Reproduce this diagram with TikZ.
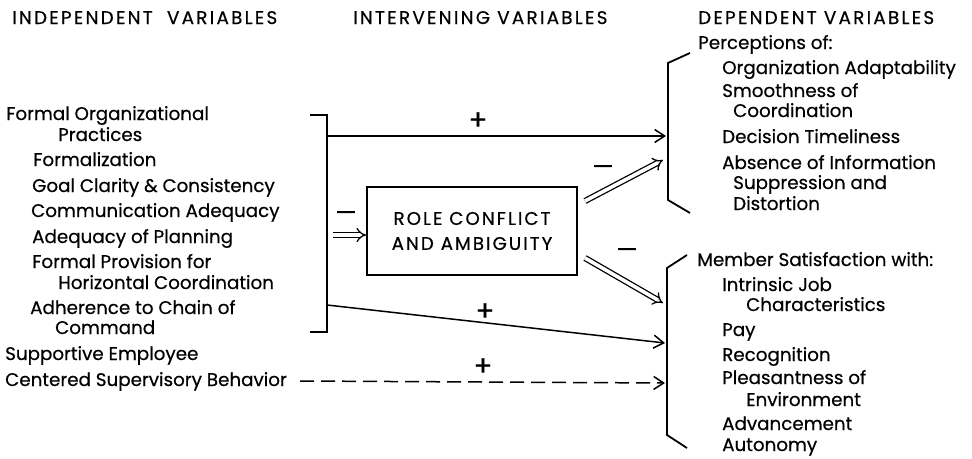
\documentclass[tikz,border=0pt]{standalone}
\usepackage{fontspec}
\setmainfont{Poppins}[FakeBold=0.5]
\usetikzlibrary{arrows.meta}
\tikzset{
  txt/.style={anchor=west, inner sep=0pt, text height=12pt, text depth=0pt, font=\fontsize{18.3}{20}\selectfont},
  hdr/.style={anchor=west, inner sep=0pt, text height=12pt, text depth=0pt, font=\fontsize{18.3}{20}\selectfont\addfontfeature{LetterSpace=12.5}},
  sign/.style={inner sep=0pt, font=\fontsize{28}{28}\selectfont},
  msign/.style={inner sep=0pt, font=\fontsize{24}{24}\selectfont},
  ln/.style={line width=1.8pt},
  arr/.style={line width=1.5pt, -{Straight Barb[length=10pt,width=13pt,line width=1.5pt]}},
  dbl/.style={line width=1.3pt, double, double distance=3.6pt, -{Implies[length=11pt]}},
  dsh/.style={arr, dash pattern=on 14pt off 7pt},
  boxn/.style={draw, line width=1.8pt, minimum width=210pt, minimum height=88pt, inner sep=0pt, align=center, font=\fontsize{18.3}{25}\selectfont\addfontfeature{LetterSpace=11}}
}
\begin{document}
\begin{tikzpicture}[x=1pt,y=-1pt]
\useasboundingbox (0,0) rectangle (972,458);
% headers
\node[hdr] (h1) at (12,18) {INDEPENDENT \ VARIABLES};
\node[hdr] (h2) at (353,18) {INTERVENING VARIABLES};
\node[hdr] (h3) at (698,18) {DEPENDENT VARIABLES};
% independent variables
\node[txt] (i1) at (6,114) {Formal Organizational};
\node[txt] (i1b) at (58,135) {Practices};
\node[txt] (i2) at (33,160) {Formalization};
\node[txt] (i3) at (32,186) {Goal Clarity \& Consistency};
\node[txt] (i4) at (31,211) {Communication Adequacy};
\node[txt] (i5) at (32,237) {Adequacy of Planning};
\node[txt] (i6) at (32,262) {Formal Provision for};
\node[txt] (i6b) at (58,283) {Horizontal Coordination};
\node[txt] (i7) at (30,308) {Adherence to Chain of};
\node[txt] (i7b) at (55,328) {Command};
\node[txt] (i8) at (5,354) {Supportive Employee};
\node[txt] (i8b) at (5,380) {Centered Supervisory Behavior};
% dependent: perceptions
\node[txt] (p0) at (698,43) {Perceptions of:};
\node[txt] (p1) at (722,68) {Organization Adaptability};
\node[txt] (p2) at (722,91) {Smoothness of};
\node[txt] (p2b) at (733,111) {Coordination};
\node[txt] (p3) at (722,137) {Decision Timeliness};
\node[txt] (p4) at (722,163) {Absence of Information};
\node[txt] (p4b) at (733,183) {Suppression and};
\node[txt] (p4c) at (733,204) {Distortion};
% dependent: satisfaction
\node[txt] (m0) at (697,260) {Member Satisfaction with:};
\node[txt] (m1) at (722,285) {Intrinsic Job};
\node[txt] (m1b) at (746,305) {Characteristics};
\node[txt] (m2) at (722,330) {Pay};
\node[txt] (m3) at (722,355) {Recognition};
\node[txt] (m4) at (722,378) {Pleasantness of};
\node[txt] (m4b) at (746,400) {Environment};
\node[txt] (m5) at (722,424) {Advancement};
\node[txt] (m6) at (722,445) {Autonomy};
% box
\node[boxn] (rc) at (472,231) {ROLE CONFLICT\\AND AMBIGUITY};
% left bracket
\coordinate (ltt) at (310,115);
\coordinate (lt) at (327,115);
\coordinate (lb) at (327,332);
\coordinate (lbb) at (310,332);
\draw[ln] (ltt) -- (lt) -- (lb) -- (lbb);
% right brackets
\coordinate (ua) at (690,53);
\coordinate (ub) at (668,63);
\coordinate (uc) at (668,200);
\coordinate (ud) at (690,213);
\draw[ln] (ua) -- (ub) -- (uc) -- (ud);
\coordinate (la) at (687,255);
\coordinate (lbr) at (667,268);
\coordinate (lc) at (667,435);
\coordinate (ld) at (687,448);
\draw[ln] (la) -- (lbr) -- (lc) -- (ld);
% connectors
\coordinate (s1) at (327,136);
\coordinate (e1) at (666,136);
\draw[arr] (s1) -- (e1);
\node[sign] (plus1) at (478,121) {+};
\coordinate (s2) at (327,305);
\coordinate (e2) at (665,343);
\draw[arr] (s2) -- (e2);
\node[sign] (plus2) at (485,312) {+};
\coordinate (s3) at (300,381);
\coordinate (e3) at (665,383);
\draw[dsh] (s3) -- (e3);
\node[sign] (plus3) at (483,367) {+};
\coordinate (s4) at (333,235);
\draw[dbl] (s4) -- (s4 -| rc.west);
\node[msign] (min1) at (346,216) {—};
\coordinate (s5) at (585,201);
\coordinate (e5) at (663,160);
\draw[dbl] (s5) -- (e5);
\node[msign] (min2) at (603,170) {—};
\coordinate (s6) at (585,258);
\coordinate (e6) at (663,303);
\draw[dbl] (s6) -- (e6);
\node[msign] (min3) at (627,253) {—};
\end{tikzpicture}
\end{document}
